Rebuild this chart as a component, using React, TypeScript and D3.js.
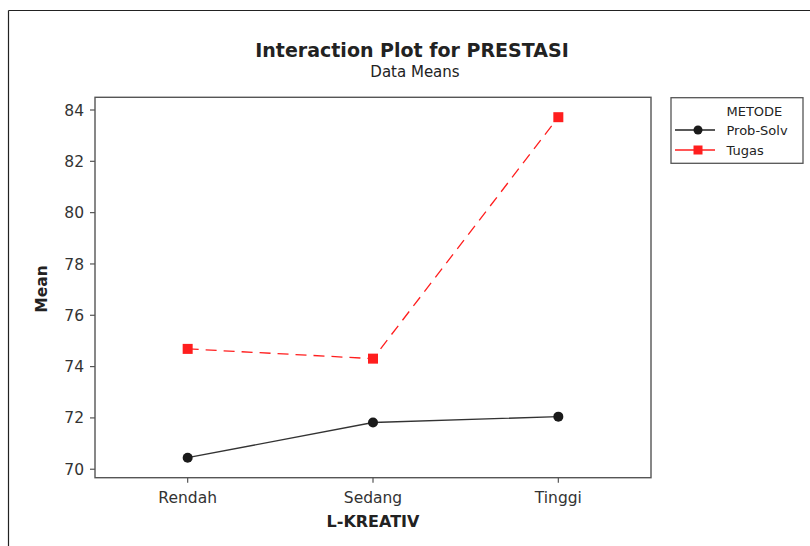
import React from "react";
import * as d3 from "d3";

const categories = ["Rendah", "Sedang", "Tinggi"];
const probSolv = [70.45, 71.82, 72.05];
const tugas = [74.69, 74.31, 83.72];
const yTicks = [70, 72, 74, 76, 78, 80, 82, 84];
const seriesNames = ["Prob-Solv", "Tugas"];

const W = 810;
const H = 546;
const plot = { left: 95, right: 651, top: 97.3, bottom: 477.7 };
const FONT = "'DejaVu Sans', Verdana, sans-serif";

export default function App() {
  const x = d3
    .scalePoint<string>()
    .domain(categories)
    .range([plot.left, plot.right])
    .padding(0.5);
  const y = d3.scaleLinear().domain([69.67, 84.495]).range([plot.bottom, plot.top]);

  const line = d3
    .line<number>()
    .x((_, i) => x(categories[i]) as number)
    .y((d) => y(d));

  const axisColor = "#555";
  const red = "#ff1e1e";
  const black = "#1a1a1a";

  return (
    <div style={{ position: "fixed", left: 0, top: 0 }}>
      <svg width={W} height={H} style={{ display: "block", background: "#fff" }}>
        <rect x={0} y={0} width={W} height={H} fill="#fff" />
        {/* outer frame */}
        <line x1={8.5} y1={10.5} x2={W} y2={10.5} stroke="#222" strokeWidth={1.2} />
        <line x1={8.5} y1={10.5} x2={8.5} y2={H} stroke="#222" strokeWidth={1.2} />

        {/* titles */}
        <text x={412} y={56.5} textAnchor="middle" fontFamily={FONT} fontWeight="bold" fontSize={19} fill="#222">
          Interaction Plot for PRESTASI
        </text>
        <text x={415} y={76.5} textAnchor="middle" fontFamily={FONT} fontSize={15} fill="#222">
          Data Means
        </text>

        {/* plot box */}
        <rect
          x={plot.left}
          y={plot.top}
          width={plot.right - plot.left}
          height={plot.bottom - plot.top}
          fill="none"
          stroke={axisColor}
          strokeWidth={1.4}
        />

        {/* y ticks */}
        {yTicks.map((t) => (
          <g key={t}>
            <line x1={plot.left - 5} x2={plot.left} y1={y(t)} y2={y(t)} stroke={axisColor} strokeWidth={1.2} />
            <text
              x={plot.left - 11}
              y={y(t)}
              dy="0.36em"
              textAnchor="end"
              fontFamily={FONT}
              fontSize={15.5}
              fill="#333"
            >
              {t}
            </text>
          </g>
        ))}

        {/* x ticks */}
        {categories.map((c) => (
          <g key={c}>
            <line
              x1={x(c)}
              x2={x(c)}
              y1={plot.bottom}
              y2={plot.bottom + 5}
              stroke={axisColor}
              strokeWidth={1.2}
            />
            <text x={x(c)} y={502.5} textAnchor="middle" fontFamily={FONT} fontSize={15.5} fill="#333">
              {c}
            </text>
          </g>
        ))}

        {/* axis labels */}
        <text
          x={373}
          y={526.5}
          textAnchor="middle"
          fontFamily={FONT}
          fontWeight="bold"
          fontSize={16}
          fill="#222"
        >
          L-KREATIV
        </text>
        <text
          transform={`translate(47,289) rotate(-90)`}
          textAnchor="middle"
          fontFamily={FONT}
          fontWeight="bold"
          fontSize={15.5}
          fill="#222"
        >
          Mean
        </text>

        {/* series lines */}
        <path d={line(probSolv) || ""} fill="none" stroke="#333" strokeWidth={1.4} />
        <path d={line(tugas) || ""} fill="none" stroke={red} strokeWidth={1.3} strokeDasharray="11,7" />

        {/* markers */}
        {probSolv.map((v, i) => (
          <circle key={"p" + i} cx={x(categories[i])} cy={y(v)} r={5} fill={black} />
        ))}
        {tugas.map((v, i) => (
          <rect
            key={"t" + i}
            x={(x(categories[i]) as number) - 5}
            y={y(v) - 5}
            width={10}
            height={10}
            fill={red}
          />
        ))}

        {/* legend */}
        <rect x={671} y={97.7} width={132} height={65.6} fill="#fff" stroke={axisColor} strokeWidth={1.3} />
        <text x={726.5} y={115.5} fontFamily={FONT} fontSize={13} fill="#222">
          METODE
        </text>
        {seriesNames.map((s, i) => {
          const ly = 130 + i * 20;
          const col = i === 0 ? "#222" : red;
          return (
            <g key={s}>
              <line x1={675} x2={715} y1={ly} y2={ly} stroke={col} strokeWidth={1.3} />
              {i === 0 ? (
                <circle cx={698} cy={ly} r={4.5} fill={black} />
              ) : (
                <rect x={693.5} y={ly - 4.5} width={9} height={9} fill={red} />
              )}
              <text x={726.5} y={ly + 4.8} fontFamily={FONT} fontSize={13} fill="#222">
                {s}
              </text>
            </g>
          );
        })}
      </svg>
    </div>
  );
}
